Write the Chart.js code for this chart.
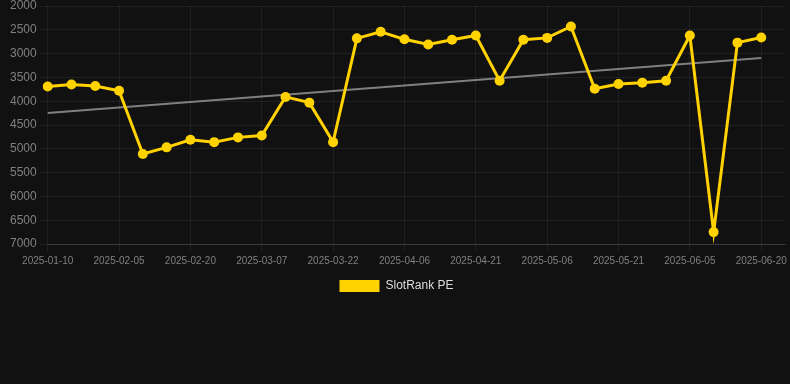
<!DOCTYPE html>
<html>
<head>
<meta charset="utf-8">
<script src="https://cdn.jsdelivr.net/npm/chart.js"></script>
<style>
  html, body { margin: 0; padding: 0; background: #111111; }
  #wrap { width: 790px; height: 302px; }
</style>
</head>
<body>
<div id="wrap"><canvas id="rankChart"></canvas></div>
<script>
// dates on the x axis (only every third one is shown)
var dates = [
  "2025-01-10", "2025-01-19", "2025-01-27", "2025-02-05", "2025-02-10", "2025-02-15",
  "2025-02-20", "2025-02-25", "2025-03-02", "2025-03-07", "2025-03-12", "2025-03-17",
  "2025-03-22", "2025-03-27", "2025-04-01", "2025-04-06", "2025-04-11", "2025-04-16",
  "2025-04-21", "2025-04-26", "2025-05-01", "2025-05-06", "2025-05-11", "2025-05-16",
  "2025-05-21", "2025-05-26", "2025-05-31", "2025-06-05", "2025-06-10", "2025-06-15",
  "2025-06-20", ""
];

// rank values
var rankValues = [
  3690, 3650, 3680, 3780, 5110, 4970, 4810, 4860, 4760, 4720,
  3910, 4030, 4860, 2680, 2540, 2700, 2810, 2710, 2620, 3570,
  2710, 2670, 2430, 3740, 3640, 3610, 3570, 2620, 6750, 2770,
  2660
];

// trend line, only its two ends
var trendValues = [];
for (var i = 0; i < 31; i++) trendValues.push(null);
trendValues[0] = 4250;
trendValues[30] = 3090;

var yellow = '#FFD200';

document.addEventListener('DOMContentLoaded', function() {
  var ctx = document.getElementById('rankChart').getContext('2d');

  var chart = new Chart(ctx, {
    type: 'line',
    data: {
      labels: dates,
      datasets: [{
        label: 'SlotRank PE',
        data: rankValues,
        borderColor: yellow,
        backgroundColor: yellow,
        borderWidth: 3,
        pointRadius: 5,
        pointBorderWidth: 0,
        pointBackgroundColor: yellow,
        tension: 0
      },
      {
        label: 'trend',
        data: trendValues,
        borderColor: 'rgba(140,140,140,0.9)',
        borderWidth: 2,
        pointRadius: 0,
        spanGaps: true,
        fill: false
      }]
    },
    options: {
      responsive: true,
      maintainAspectRatio: false,
      animation: false,
      layout: { padding: { left: 7, right: 4 } },
      plugins: {
        legend: {
          position: 'bottom',
          labels: {
            color: '#dddddd',
            font: { size: 12 },
            boxWidth: 40,
            filter: function(item) { return item.text !== 'trend'; },
            generateLabels: function(c) {
              var items = Chart.defaults.plugins.legend.labels.generateLabels(c);
              items.forEach(function(it) { it.lineWidth = 0; });
              return items;
            }
          }
        },
        tooltip: { enabled: false }
      },
      scales: {
        x: {
          grid: {
            color: function(c) {
              return c.index % 3 === 0 ? 'rgba(255,255,255,0.06)' : 'rgba(0,0,0,0)';
            }
          },
          border: { color: 'rgba(255,255,255,0.12)' },
          ticks: {
            color: '#808080',
            font: { size: 10 },
            autoSkip: false,
            maxRotation: 0,
            minRotation: 0,
            callback: function(v, idx) {
              return idx % 3 === 0 ? this.getLabelForValue(v) : '';
            }
          }
        },
        y: {
          reverse: true,
          min: 2000,
          max: 7000,
          grid: { color: 'rgba(255,255,255,0.06)' },
          border: { display: false },
          afterFit: function(scale) { scale.paddingTop = 6; },
          ticks: {
            stepSize: 500,
            color: '#808080',
            font: { size: 12 },
            callback: function(v) { return String(v); }
          }
        }
      }
    }
  });
});
</script>
</body>
</html>
